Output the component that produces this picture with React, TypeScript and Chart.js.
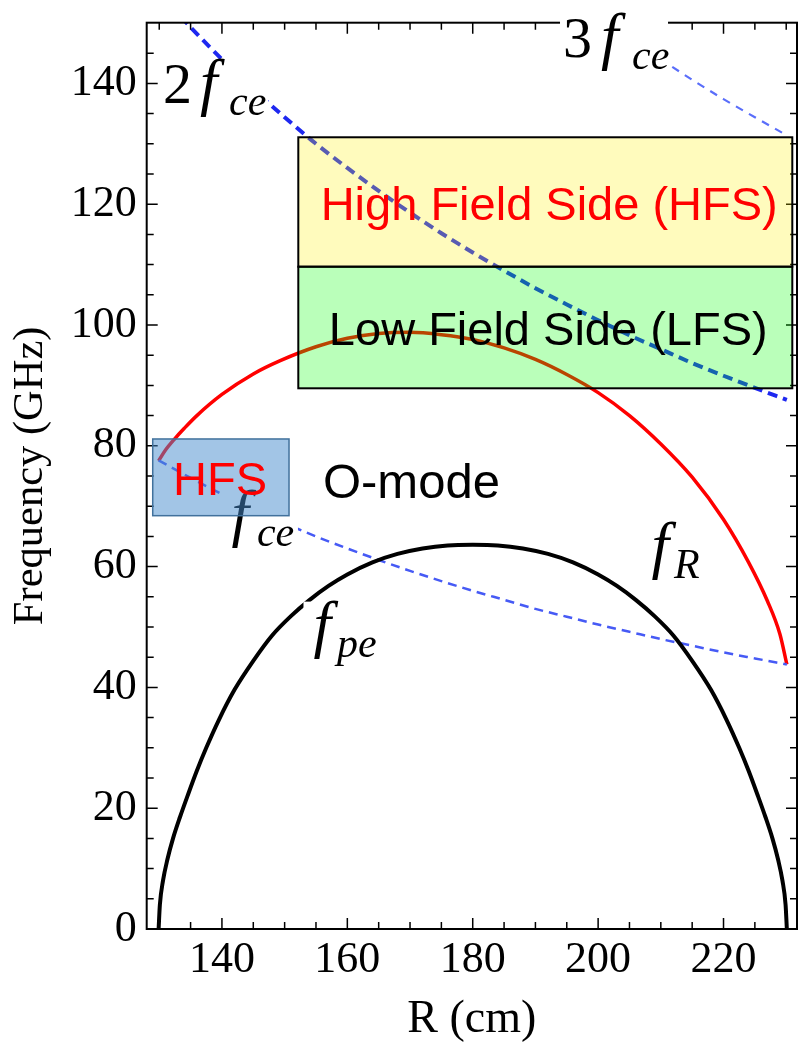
import { useEffect, useRef } from "react";
import { Chart, registerables } from "chart.js";

Chart.register(...registerables);

// ---- data (R in cm, frequency in GHz) ----
const fpeR = [129.9, 130.1, 130.6, 131.3, 132.2, 133.3, 134.5, 136, 137.5, 139.5, 142, 145, 148, 151, 154, 157, 160, 164, 168, 172, 176, 180, 184, 188, 192, 196, 200, 203, 206, 209, 212, 215, 218, 220.5, 222.5, 224, 225.5, 226.7, 227.8, 228.7, 229.4, 229.9, 230.1];
const fpeF = [0, 4, 8, 11.5, 15, 18.5, 22, 26.2, 30, 34.6, 39.6, 44.4, 48.6, 51.8, 54.5, 56.8, 58.7, 60.7, 62.1, 63, 63.5, 63.6, 63.5, 63, 62.1, 60.7, 58.7, 56.8, 54.5, 51.8, 48.6, 44.4, 39.6, 34.6, 30, 26.2, 22, 18.5, 15, 11.5, 8, 4, 0];

const fRR = [129.9, 131, 132.5, 134, 136, 140, 145, 149.3, 155, 160, 165, 170, 175, 180, 185, 190, 195, 200, 205, 210, 215, 220, 224, 227, 229, 230.1];
const fRF = [77.5, 79.3, 81.2, 82.9, 85.0, 88.5, 91.9, 94.1, 96.4, 97.8, 98.6, 98.8, 98.4, 97.6, 96.2, 94.3, 91.8, 88.8, 85.0, 80.3, 74.8, 67.8, 60.7, 54.3, 48.8, 43.8];

const fceR = [129.9, 135, 140, 145, 150, 155, 160, 165, 170, 175, 180, 185, 190, 195, 200, 205, 210, 215, 220, 225, 230.1];
const fceF = [77.6, 74.7, 72.0, 69.5, 67.2, 65.0, 63.0, 61.1, 59.3, 57.6, 56.0, 54.5, 53.0, 51.7, 50.4, 49.2, 48.0, 46.9, 45.8, 44.8, 43.8];

const f2ceR = [130, 135, 140, 145, 150, 155, 160, 165, 170, 175, 180, 185, 190, 195, 200, 205, 210, 215, 220, 225, 230.1];
const f2ceF = [155.0, 149.3, 144.0, 139.0, 134.4, 130.0, 126.0, 122.2, 118.6, 115.2, 112.0, 109.0, 106.1, 103.4, 100.8, 98.3, 96.0, 93.7, 91.6, 89.6, 87.6];

const f3ceR = [200, 205, 210, 215, 220, 225, 230.1];
const f3ceF = [151.2, 147.5, 144.0, 140.6, 137.4, 134.4, 131.4];

const xTicks = [140, 160, 180, 200, 220];
const yTicks = [0, 20, 40, 60, 80, 100, 120, 140];

// ---- annotations ----
type Piece = { t: string; dx: number; dy: number; size: number; italic: boolean };
const mathLabels: { R: number; f: number; pieces: Piece[]; bg: number[] }[] = [
  {
    R: 130.6, f: 136.75,
    pieces: [
      { t: "2", dx: 0, dy: 0, size: 58, italic: false },
      { t: "f", dx: 37, dy: 0, size: 63, italic: true },
      { t: "ce", dx: 66, dy: 12, size: 42, italic: true },
    ],
    bg: [-5, -42, 105, 19],
  },
  {
    R: 194.4, f: 144.4,
    pieces: [
      { t: "3", dx: 0, dy: 0, size: 58, italic: false },
      { t: "f", dx: 38, dy: 0, size: 63, italic: true },
      { t: "ce", dx: 69, dy: 12, size: 42, italic: true },
    ],
    bg: [-3, -49, 105, 13],
  },
  {
    R: 141.52, f: 65.4,
    pieces: [
      { t: "f", dx: 0, dy: 0, size: 63, italic: true },
      { t: "ce", dx: 25.5, dy: 12, size: 42, italic: true },
    ],
    bg: [-11.5, -48, 66.5, 18],
  },
  {
    R: 154.6, f: 47.0,
    pieces: [
      { t: "f", dx: 0, dy: 0, size: 63, italic: true },
      { t: "pe", dx: 23.5, dy: 12, size: 42, italic: true },
    ],
    bg: [-10, -43.5, 67, 23],
  },
  {
    R: 208.5, f: 60.1,
    pieces: [
      { t: "f", dx: 0, dy: 0, size: 63, italic: true },
      { t: "R", dx: 22.5, dy: 12, size: 42, italic: true },
    ],
    bg: [-12, -46, 60, 16],
  },
];

const boxes = [
  { x0: 152.18, x1: 230.97, y0: 131.08, y1: 109.65, fill: "rgba(255,240,0,0.26)", stroke: "#000", lw: 2 },
  { x0: 152.18, x1: 230.97, y0: 109.65, y1: 89.52, fill: "rgba(0,255,0,0.27)", stroke: "#000", lw: 2 },
  { x0: 128.96, x1: 150.7, y0: 81.13, y1: 68.43, fill: "rgba(70,140,205,0.5)", stroke: "#41719C", lw: 1.5 },
];

const boxTexts = [
  { t: "High Field Side (HFS)", R: 192.2, f: 117.4, align: "center", color: "#ff0000", size: 47 },
  { t: "Low Field Side (LFS)", R: 192.05, f: 96.7, align: "center", color: "#000000", size: 47 },
  { t: "HFS", R: 139.7, f: 71.85, align: "center", color: "#ff0000", size: 47 },
  { t: "O-mode", R: 156.1, f: 71.36, align: "left", color: "#000000", size: 49 },
];

const pts = (xs: number[], ys: number[]) => xs.map((x, i) => ({ x, y: ys[i] }));

const overlay = {
  id: "overlay",
  afterDatasetsDraw(chart: any) {
    const { ctx, chartArea, scales } = chart;
    const { left, right, top, bottom } = chartArea;
    const xs = scales.x;
    const ys = scales.y;
    ctx.save();
    // frame
    ctx.strokeStyle = "#000";
    ctx.lineWidth = 2;
    ctx.strokeRect(left, top, right - left, bottom - top);
    // inward ticks
    ctx.lineWidth = 1.5;
    ctx.beginPath();
    for (let v = 130; v <= 230; v += 5) {
      const px = xs.getPixelForValue(v);
      const L = v % 20 === 0 ? 11 : 7;
      ctx.moveTo(px, bottom);
      ctx.lineTo(px, bottom - L);
      ctx.moveTo(px, top);
      ctx.lineTo(px, top + L);
    }
    for (let v = 5; v <= 145; v += 5) {
      const py = ys.getPixelForValue(v);
      const L = v % 20 === 0 ? 11 : 7;
      ctx.moveTo(left, py);
      ctx.lineTo(left + L, py);
      ctx.moveTo(right, py);
      ctx.lineTo(right - L, py);
    }
    ctx.stroke();

    // math labels with white backgrounds
    for (const lab of mathLabels) {
      const px = xs.getPixelForValue(lab.R);
      const py = ys.getPixelForValue(lab.f);
      ctx.fillStyle = "#ffffff";
      ctx.fillRect(px + lab.bg[0], py + lab.bg[1], lab.bg[2] - lab.bg[0], lab.bg[3] - lab.bg[1]);
      for (const p of lab.pieces) {
        ctx.font = `${p.italic ? "italic " : ""}${p.size}px "Liberation Serif"`;
        ctx.fillStyle = "#000";
        ctx.textAlign = "left";
        ctx.textBaseline = "alphabetic";
        ctx.fillText(p.t, px + p.dx, py + p.dy);
      }
    }

    // boxes
    for (const b of boxes) {
      const x0 = xs.getPixelForValue(b.x0);
      const x1 = xs.getPixelForValue(b.x1);
      const y0 = ys.getPixelForValue(b.y0);
      const y1 = ys.getPixelForValue(b.y1);
      ctx.fillStyle = b.fill;
      ctx.fillRect(x0, y0, x1 - x0, y1 - y0);
      ctx.strokeStyle = b.stroke;
      ctx.lineWidth = b.lw;
      ctx.strokeRect(x0, y0, x1 - x0, y1 - y0);
    }
    for (const t of boxTexts) {
      ctx.font = `${t.size}px "Liberation Sans"`;
      ctx.fillStyle = t.color;
      ctx.textAlign = t.align as CanvasTextAlign;
      ctx.textBaseline = "alphabetic";
      ctx.fillText(t.t, xs.getPixelForValue(t.R), ys.getPixelForValue(t.f));
    }
    ctx.restore();
  },
};

export default function App() {
  const ref = useRef<HTMLCanvasElement>(null);
  useEffect(() => {
    document.body.style.margin = "0";
    const canvas = ref.current!;
    const tickFont = { family: "Liberation Serif", size: 44 };
    const xTitleFont = { family: "Liberation Serif", size: 46 };
    const yTitleFont = { family: "Liberation Serif", size: 42.5 };
    const chart = new Chart(canvas, {
      type: "scatter",
      data: {
        datasets: [
          { label: "fpe", data: pts(fpeR, fpeF), showLine: true, borderColor: "#000000", borderWidth: 4, pointRadius: 0, cubicInterpolationMode: "monotone" },
          { label: "fce", data: pts(fceR, fceF), showLine: true, borderColor: "rgb(70,90,245)", borderWidth: 2.5, borderDash: [9, 6], pointRadius: 0, cubicInterpolationMode: "monotone" },
          { label: "2fce", data: pts(f2ceR, f2ceF), showLine: true, borderColor: "rgb(30,40,240)", borderWidth: 4, borderDash: [10, 6], pointRadius: 0, cubicInterpolationMode: "monotone" },
          { label: "3fce", data: pts(f3ceR, f3ceF), showLine: true, borderColor: "rgb(90,110,250)", borderWidth: 2.2, borderDash: [8, 7], pointRadius: 0, cubicInterpolationMode: "monotone" },
          { label: "fR", data: pts(fRR, fRF), showLine: true, borderColor: "#ff0000", borderWidth: 3.5, pointRadius: 0, cubicInterpolationMode: "monotone" },
        ] as any,
      },
      options: {
        responsive: false,
        animation: false,
        devicePixelRatio: 1,
        layout: { padding: { top: 22.7, right: 1, left: 0, bottom: 0 } },
        plugins: { legend: { display: false }, tooltip: { enabled: false } },
        scales: {
          x: {
            type: "linear",
            min: 128,
            max: 231.72,
            grid: { display: false, drawTicks: false },
            border: { display: false },
            ticks: { font: tickFont, color: "#000", padding: 4.6, maxRotation: 0, autoSkip: false },
            afterBuildTicks: (s: any) => { s.ticks = xTicks.map((v) => ({ value: v })); },
            afterFit: (s: any) => { s.height = 115; s.paddingLeft = 0; s.paddingRight = 0; },
            title: { display: true, text: "R (cm)", font: xTitleFont, color: "#000", padding: { top: 0, bottom: -3.5 } },
          },
          y: {
            type: "linear",
            min: 0,
            max: 150.05,
            grid: { display: false, drawTicks: false },
            border: { display: false },
            ticks: { font: tickFont, color: "#000", padding: 10, autoSkip: false },
            afterBuildTicks: (s: any) => { s.ticks = yTicks.map((v) => ({ value: v })); },
            afterFit: (s: any) => { s.width = 146.7; s.paddingTop = 0; s.paddingBottom = 0; },
            title: { display: true, text: "Frequency (GHz)", font: yTitleFont, color: "#000", padding: { top: 5.5, bottom: 0 } },
          },
        },
      } as any,
      plugins: [overlay],
    });
    return () => chart.destroy();
  }, []);
  return (
    <canvas
      ref={ref}
      width={798}
      height={1044}
      style={{ position: "absolute", left: 0, top: 0, display: "block" }}
    />
  );
}
